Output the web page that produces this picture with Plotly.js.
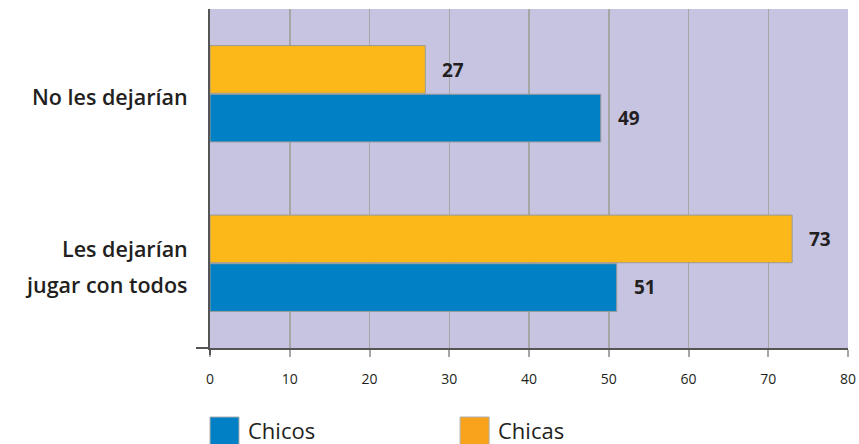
<!DOCTYPE html>
<html>
<head>
<meta charset="utf-8">
<script src="https://cdn.plot.ly/plotly-3.0.1.min.js"></script>
<style>html,body{margin:0;padding:0;background:#fff;}#chart{width:859px;height:444px;}</style>
</head>
<body>
<div id="chart"></div>
<script>
// Data
const categories = ["Les dejarían<br>jugar con todos", "No les dejarían"];
const seriesNames = ["Chicos", "Chicas"];
const chicos = [51, 49];
const chicas = [73, 27];
const xTickVals = [0, 10, 20, 30, 40, 50, 60, 70, 80];

const barColors = ["#0180c6", "#fbb818"];
const legendColors = ["#0180c6", "#f8a31b"];
const seriesValues = [chicos, chicas];
const textColor = "#231f20";

const traces = seriesValues.map((vals, i) => ({
  type: "bar",
  orientation: "h",
  name: seriesNames[i],
  x: vals,
  y: categories,
  marker: { color: barColors[i], line: { color: "#9a9a9a", width: 1 } },
  showlegend: false,
  hoverinfo: "x+name"
}));

const annotations = [];
// value labels
seriesValues.forEach((vals, i) => {
  vals.forEach((v, j) => {
    annotations.push({
      x: v, y: categories[j], xref: "x", yref: "y",
      text: String(v), showarrow: false,
      xanchor: "left", yanchor: "middle",
      xshift: 15, yshift: i === 0 ? -24 : 24,
      font: { family: "Open Sans", size: 19, color: textColor, weight: 700 }
    });
  });
});
// category labels (split lines for wider line spacing)
categories.forEach((c, j) => {
  const lines = c.split("<br>");
  const n = lines.length;
  lines.forEach((ln, k) => {
    annotations.push({
      x: 0, y: c, xref: "paper", yref: "y",
      text: ln, showarrow: false,
      xanchor: "right", yanchor: "middle",
      xshift: -20, yshift: -3 + ((n - 1) / 2 - k) * 36,
      font: { family: "Open Sans", size: 21.5, color: textColor, weight: 600 }
    });
  });
});
// custom legend
const legendX = [0.0, 0.392];
const shapes = [];
seriesNames.forEach((nm, i) => {
  shapes.push({
    type: "rect", xref: "paper", yref: "paper",
    x0: legendX[i], x1: legendX[i] + 0.0455,
    y0: -0.2035, y1: -0.29,
    fillcolor: legendColors[i], line: { color: "#b0b0b0", width: 1 }
  });
  annotations.push({
    x: legendX[i] + 0.0565, y: -0.243, xref: "paper", yref: "paper",
    text: nm, showarrow: false, xanchor: "left", yanchor: "middle",
    font: { family: "Open Sans", size: 22, color: textColor }
  });
});
// axis line extension
shapes.push({
  type: "line", xref: "paper", yref: "paper",
  x0: -0.022, x1: 0, y0: 0, y1: 0,
  line: { color: "#555", width: 2 }
});
shapes.push({
  type: "line", xref: "paper", yref: "paper",
  x0: 0, x1: 0, y0: 0, y1: -0.0206,
  line: { color: "#555", width: 2 }
});

const layout = {
  width: 859, height: 444,
  margin: { l: 210, r: 11, t: 9, b: 96, pad: 0 },
  paper_bgcolor: "#ffffff",
  plot_bgcolor: "#c7c4e2",
  barmode: "group",
  bargap: 0.426,
  bargroupgap: 0.02,
  font: { family: "Open Sans", color: textColor },
  xaxis: {
    range: [0, 80], tickvals: xTickVals, ticktext: xTickVals.map(String),
    showgrid: true, gridcolor: "#a6a6a6", gridwidth: 1.5,
    zeroline: false, showline: true, linecolor: "#555", linewidth: 2,
    ticks: "outside", ticklen: 7, tickwidth: 2, tickcolor: "#a6a6a6",
    tickfont: { family: "Open Sans", size: 14, color: textColor },
    ticklabelstandoff: 10, fixedrange: true
  },
  yaxis: {
    type: "category", categoryarray: categories, range: [-0.5, 1.5],
    showgrid: false, zeroline: false, showline: true, linecolor: "#555", linewidth: 2,
    ticks: "", showticklabels: false, fixedrange: true
  },
  annotations: annotations,
  shapes: shapes
};

Plotly.newPlot("chart", traces, layout, { displayModeBar: false, staticPlot: true });
</script>
</body>
</html>
